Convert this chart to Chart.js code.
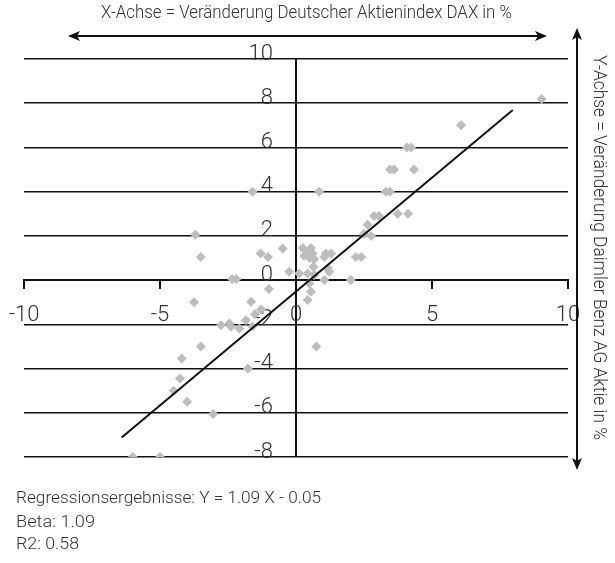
<!DOCTYPE html>
<html>
<head>
<meta charset="utf-8">
<script src="https://cdn.jsdelivr.net/npm/chart.js@4"></script>
<style>
  html, body { margin: 0; padding: 0; background: #fff; }
  #wrap { position: relative; width: 615px; height: 563px; }
  #chart { position: absolute; left: 0; top: 0; }
  .txt {
    position: absolute;
    font-family: Roboto, 'Liberation Sans', sans-serif;
    font-weight: 300;
    color: #333;
    white-space: nowrap;
    line-height: 20px;
    transform-origin: 0 0;
  }
</style>
</head>
<body>
<div id="wrap">
  <canvas id="chart" width="615" height="563"></canvas>
  <div class="txt" id="xTitle" data-w="411" style="left:101px;top:2px;font-size:19px;">X-Achse = Veränderung Deutscher Aktienindex DAX in %</div>
  <div class="txt" id="yTitle" data-w="385" data-rot="1" style="left:610px;top:55px;font-size:19px;">Y-Achse = Veränderung Daimler Benz AG Aktie in %</div>
  <div class="txt" data-w="305" style="left:16px;top:487px;font-size:17px;">Regressionsergebnisse: Y = 1.09 X - 0.05</div>
  <div class="txt" data-w="79" style="left:16px;top:511px;font-size:17px;">Beta: 1.09</div>
  <div class="txt" data-w="63" style="left:16px;top:533px;font-size:17px;">R2: 0.58</div>
</div>
<script>
// Veränderung DAX (x) und Daimler Benz (y) in %
const daxChange = [
  9.03, 6.07, 4.08, 4.23, 3.46, 3.6, 4.34, 3.3, 3.45, 2.87, 3.05, 3.74, 4.12,
  2.63, 2.5, 2.76, 2.2, 2.4, 1.29,
  -0.49, 0.25, 0.4, 0.55, 0.3, 0.5, 0.61, 0.67, 1.1, 1.04,
  -0.25, 0.12, 0.43, 0.64, 0.67, 1.17, 1.22, 1.04, 2.02, 0.49, 0.55, 0.43,
  -1.6, 0.85, -3.7, -3.5, -1.3, -1.03, -2.35, -2.2, -1.0,
  -3.75, -1.65, -1.29, -1.51, -1.84, -2.76, -2.45, -2.39, -2.08, -1.6,
  -3.5, -1.77, -4.2, -4.27, -4.5, -4.0, -3.05, 0.75, -6.0, -5.0
];
const daimlerChange = [
  8.19, 7.0, 6.0, 6.0, 5.0, 5.0, 5.0, 4.0, 4.0, 2.9, 2.9, 3.0, 3.0,
  2.5, 2.1, 2.0, 1.05, 1.05, 1.2,
  1.43, 1.45, 1.25, 1.45, 1.1, 1.0, 1.2, 0.94, 1.2, 1.05,
  0.38, 0.3, 0.3, 0.6, 0.23, 0.53, 0.38, 0.0, 0.0, -0.15, -0.53, -0.9,
  4.0, 4.0, 2.05, 1.05, 1.2, 1.05, 0.05, 0.05, -0.4,
  -1.0, -0.98, -1.33, -1.54, -1.81, -2.04, -1.96, -2.11, -2.19, -2.1,
  -3.0, -4.0, -3.55, -4.45, -5.0, -5.5, -6.05, -3.0, -8.0, -8.0
];

// Regressionsgerade (Endpunkte)
const lineX = [-6.41, 7.97];
const lineY = [-7.12, 7.69];

const xTicksStep = 5;
const yTicksStep = 2;

const fontFamily = "Roboto, 'Liberation Sans', sans-serif";

// Texte auf Zielbreite stauchen (schmale Schrift nachbilden)
document.querySelectorAll('.txt').forEach(el => {
  const w = el.getBoundingClientRect().width;
  const s = parseFloat(el.dataset.w) / w;
  el.style.transform = el.dataset.rot ? `rotate(90deg) scaleX(${s})` : `scaleX(${s})`;
});

// Pfeile fuer Achsenbeschriftung
const arrowPlugin = {
  id: 'arrows',
  afterDraw(chart) {
    const ctx = chart.ctx;
    ctx.save();
    ctx.strokeStyle = '#111';
    ctx.fillStyle = '#111';
    ctx.lineWidth = 2;

    function head(x, y, ang) {
      ctx.save();
      ctx.translate(x, y);
      ctx.rotate(ang);
      ctx.beginPath();
      ctx.moveTo(0, 0);
      ctx.lineTo(-12, -5);
      ctx.lineTo(-9, 0);
      ctx.lineTo(-12, 5);
      ctx.closePath();
      ctx.fill();
      ctx.restore();
    }

    // horizontal
    ctx.beginPath();
    ctx.moveTo(72, 36);
    ctx.lineTo(543, 36);
    ctx.stroke();
    head(68, 36, Math.PI);
    head(547, 36, 0);

    // vertikal
    ctx.beginPath();
    ctx.moveTo(577, 32);
    ctx.lineTo(577, 466);
    ctx.stroke();
    head(577, 28, -Math.PI / 2);
    head(577, 470, Math.PI / 2);

    ctx.restore();
  }
};

const ctx = document.getElementById('chart').getContext('2d');
new Chart(ctx, {
  type: 'scatter',
  data: {
    datasets: [
      {
        type: 'line',
        data: lineX.map((x, i) => ({ x: x, y: lineY[i] })),
        borderColor: '#111',
        borderWidth: 2,
        pointRadius: 0,
        fill: false,
        order: 0
      },
      {
        data: daxChange.map((x, i) => ({ x: x, y: daimlerChange[i] })),
        backgroundColor: '#bdbdbd',
        borderWidth: 0,
        pointStyle: 'rectRot',
        pointRadius: 5,
        order: 1
      }
    ]
  },
  options: {
    responsive: false,
    animation: false,
    layout: {
      padding: { left: 24, right: 47, top: 59, bottom: 106 }
    },
    plugins: {
      legend: { display: false },
      tooltip: { enabled: false }
    },
    scales: {
      x: {
        type: 'linear',
        min: -10,
        max: 10,
        position: { y: 0 },
        // Beschriftung darf ueber den Rand ragen
        afterFit: s => { s.paddingLeft = 0; s.paddingRight = 0; },
        ticks: {
          stepSize: xTicksStep,
          color: '#333',
          padding: 14,
          maxRotation: 0,
          font: { family: fontFamily, size: 22, weight: 300 }
        },
        // senkrechte Achse als Gitterlinie bei x = 0
        grid: {
          drawOnChartArea: true,
          drawTicks: true,
          tickLength: 8,
          color: c => (c.tick && c.tick.value === 0 ? '#111' : 'rgba(0,0,0,0)'),
          tickColor: '#111',
          lineWidth: 2
        },
        border: { display: true, color: '#111', width: 2 }
      },
      y: {
        type: 'linear',
        min: -8,
        max: 10,
        position: { x: -0.85 },
        ticks: {
          stepSize: yTicksStep,
          color: '#333',
          labelOffset: -5,
          font: { family: fontFamily, size: 22, weight: 300 }
        },
        grid: { color: '#111', lineWidth: 1.6, drawTicks: false },
        border: { display: false }
      }
    }
  },
  plugins: [arrowPlugin]
});
</script>
</body>
</html>
